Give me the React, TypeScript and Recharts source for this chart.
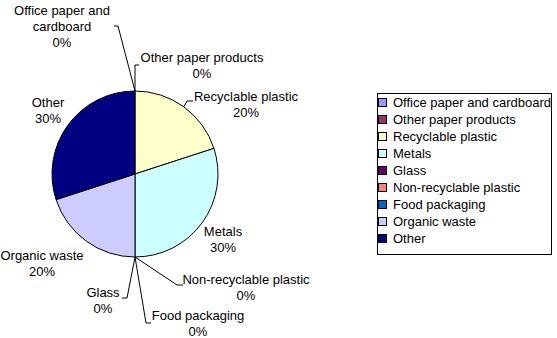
import React from 'react';
import { PieChart, Pie, Cell, Legend } from 'recharts';

const categories = [
  'Office paper and cardboard',
  'Other paper products',
  'Recyclable plastic',
  'Metals',
  'Glass',
  'Non-recyclable plastic',
  'Food packaging',
  'Organic waste',
  'Other',
];
const shares = [0, 0, 20, 30, 0, 0, 0, 20, 30];
const palette = ['#9999FF', '#993366', '#FFFFCC', '#CCFFFF', '#660066', '#FF8080', '#0066CC', '#CCCCFF', '#000080'];

// label text wraps like the original
const labelWrap: Record<string, string[]> = {
  'Office paper and cardboard': ['Office paper and', 'cardboard'],
};

// label spots relative to pie centre, plus leader elbows (Excel-style)
const labelSpots = [
  { x: -73, y: -164, lead: [[-17, -148], [-21, -148]] },
  { x: 67, y: -117, lead: [[0, -109], [4, -109]] },
  { x: 111, y: -78, lead: [[52, -73], [58, -73]] },
  { x: 88, y: 57, lead: null },
  { x: -32, y: 118, lead: [[-8, 124], [-13, 124]] },
  { x: 111, y: 105, lead: [[42, 111], [48, 111]] },
  { x: 63, y: 141, lead: [[11, 149], [16, 149]] },
  { x: -93, y: 81, lead: null },
  { x: -87, y: -72, lead: null },
];

const data = categories.map((name, i) => ({ name, value: shares[i] }));
const total = shares.reduce((a, b) => a + b, 0);

const FONT = '"Liberation Sans", Arial, sans-serif';
const RAD = Math.PI / 180;

const renderLabel = (props: any) => {
  const { cx, cy, midAngle, outerRadius, index, name, value } = props;
  const spot = labelSpots[index];
  const lines = [...(labelWrap[name] || [name]), `${Math.round((value / total) * 100)}%`];
  const sx = cx + outerRadius * Math.cos(-midAngle * RAD);
  const sy = cy + outerRadius * Math.sin(-midAngle * RAD);
  return (
    <g key={`lbl-${index}`}>
      {spot.lead && (
        <polyline
          points={[[sx, sy], ...spot.lead.map(([dx, dy]) => [cx + dx, cy + dy])].map((p) => p.join(',')).join(' ')}
          fill="none"
          stroke="#000"
          strokeWidth={1}
        />
      )}
      {lines.map((t, j) => (
        <text
          key={j}
          x={cx + spot.x}
          y={cy + spot.y + j * 16}
          textAnchor="middle"
          dominantBaseline="central"
          fontSize={13}
          fontFamily={FONT}
          fill="#000"
        >
          {t}
        </text>
      ))}
    </g>
  );
};

const LegendBox = () => (
  <div
    style={{
      width: 175,
      height: 162,
      boxSizing: 'border-box',
      border: '1px solid #000',
      background: '#fff',
      paddingTop: 0,
      fontFamily: FONT,
      fontSize: 13,
    }}
  >
    {categories.map((c, i) => (
      <div key={c} style={{ display: 'flex', alignItems: 'center', height: 17, whiteSpace: 'nowrap' }}>
        <span
          style={{
            display: 'inline-block',
            width: 7,
            height: 7,
            marginLeft: 0,
            marginRight: 6,
            background: palette[i],
            border: '1px solid #000',
          }}
        />
        <span style={{ color: '#000' }}>{c}</span>
      </div>
    ))}
  </div>
);

export default function App() {
  return (
    <div style={{ position: 'absolute', left: 0, top: 0, width: 557, height: 338, background: '#fff' }}>
      <PieChart width={557} height={338} margin={{ top: 0, right: 0, bottom: 0, left: 0 }}>
        <Pie
          data={data}
          dataKey="value"
          nameKey="name"
          cx={135}
          cy={174}
          outerRadius={83}
          startAngle={90}
          endAngle={-270}
          stroke="#000"
          strokeWidth={1}
          label={renderLabel}
          labelLine={false}
          isAnimationActive={false}
        >
          {data.map((d, i) => (
            <Cell key={d.name} fill={palette[i]} />
          ))}
        </Pie>
        <Legend content={<LegendBox />} wrapperStyle={{ left: 377, top: 93, width: 175 }} />
      </PieChart>
    </div>
  );
}
